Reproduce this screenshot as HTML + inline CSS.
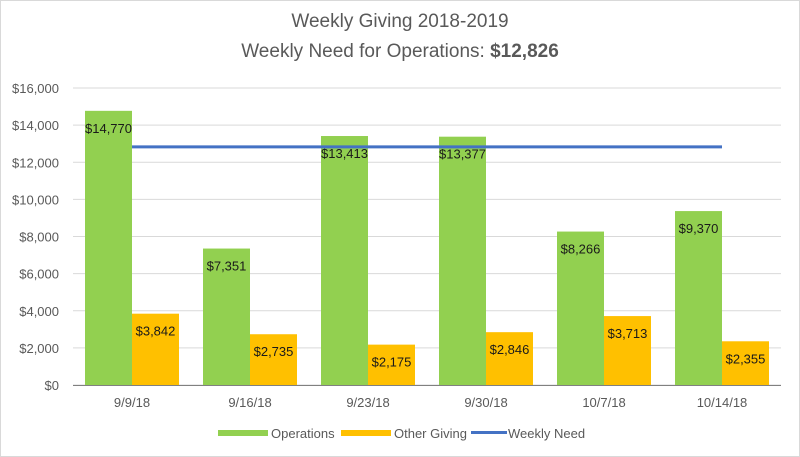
<!DOCTYPE html>
<html><head><meta charset="utf-8"><style>
body{margin:0;background:#fff}
svg{font-family:"Liberation Sans",sans-serif;display:block}
</style></head><body>
<svg width="800" height="457" id="chart">
<rect x="0.5" y="0.5" width="799" height="456" fill="#fff" stroke="#d9d9d9"/>
<text x="400" y="27" text-anchor="middle" font-size="19" fill="#595959">Weekly Giving 2018-2019</text>
<text x="400" y="57" text-anchor="middle" font-size="19" fill="#595959">Weekly Need for Operations:  <tspan font-weight="bold">$12,826</tspan></text>
<g id="grid"></g><g id="bars"></g><g id="axes"></g>
<g font-size="13" fill="#595959">
<rect x="218" y="430" width="50" height="6" fill="#92d050"/>
<text x="271" y="438">Operations</text>
<rect x="341" y="430" width="50" height="6" fill="#ffc000"/>
<text x="394" y="438">Other Giving</text>
<rect x="471" y="431" width="36" height="3" fill="#4472c4"/>
<text x="508" y="438">Weekly Need</text>
</g>
</svg>
<script>
const categories=["9/9/18","9/16/18","9/23/18","9/30/18","10/7/18","10/14/18"];
const operations=[14770,7351,13413,13377,8266,9370];
const otherGiving=[3842,2735,2175,2846,3713,2355];
const weeklyNeed=[12826,12826,12826,12826,12826,12826];
const yTicks=[0,2000,4000,6000,8000,10000,12000,14000,16000];
const NS="http://www.w3.org/2000/svg";
const X0=73,X1=781,Y0=385,Y1=88,YMAX=16000;
const gw=(X1-X0)/categories.length;
const y=v=>Y0-v/YMAX*(Y0-Y1);
const cx=i=>X0+gw*(i+0.5);
function mk(tag,attrs,parent){const e=document.createElementNS(NS,tag);for(const k in attrs)e.setAttribute(k,attrs[k]);parent.appendChild(e);return e;}
const fmt=v=>"$"+v.toLocaleString("en-US");
const grid=document.getElementById("grid"),bars=document.getElementById("bars"),axes=document.getElementById("axes");
yTicks.forEach(t=>{
 const l=mk("line",{x1:X0,x2:X1,y1:y(t),y2:y(t),stroke:"#d9d9d9"},grid);
 
 
 const tx=mk("text",{x:59,y:y(t)+5,"text-anchor":"end","font-size":"13",fill:"#595959"},axes);
 tx.textContent=fmt(t);
 
 
});
const ax=mk("line",{x1:X0,x2:X1,y1:Y0+0.5,y2:Y0+0.5,stroke:"#808080"},axes);


const bw=47;
categories.forEach((c,i)=>{
 const c0=cx(i);
 const g=mk("rect",{x:c0-bw,y:y(operations[i]),width:bw,height:Y0-y(operations[i]),fill:"#92d050"},bars);
 
 
 const o=mk("rect",{x:c0,y:y(otherGiving[i]),width:bw,height:Y0-y(otherGiving[i]),fill:"#ffc000"},bars);
 
 
 const lg=mk("text",{x:c0-bw/2,y:y(operations[i])+22,"text-anchor":"middle","font-size":"13",fill:"#1a1a1a"},bars);
 lg.textContent=fmt(operations[i]);
 
 
 const lo=mk("text",{x:c0+bw/2,y:y(otherGiving[i])+22,"text-anchor":"middle","font-size":"13",fill:"#1a1a1a"},bars);
 lo.textContent=fmt(otherGiving[i]);
 
 
 const xl=mk("text",{x:c0,y:407,"text-anchor":"middle","font-size":"13",fill:"#595959"},axes);
 xl.textContent=c;
 
 
});
const pts=weeklyNeed.map((v,i)=>cx(i)+","+y(v)).join(" ");
const pl=mk("polyline",{points:pts,fill:"none",stroke:"#4472c4","stroke-width":"3"},bars);


</script>
</body></html>
